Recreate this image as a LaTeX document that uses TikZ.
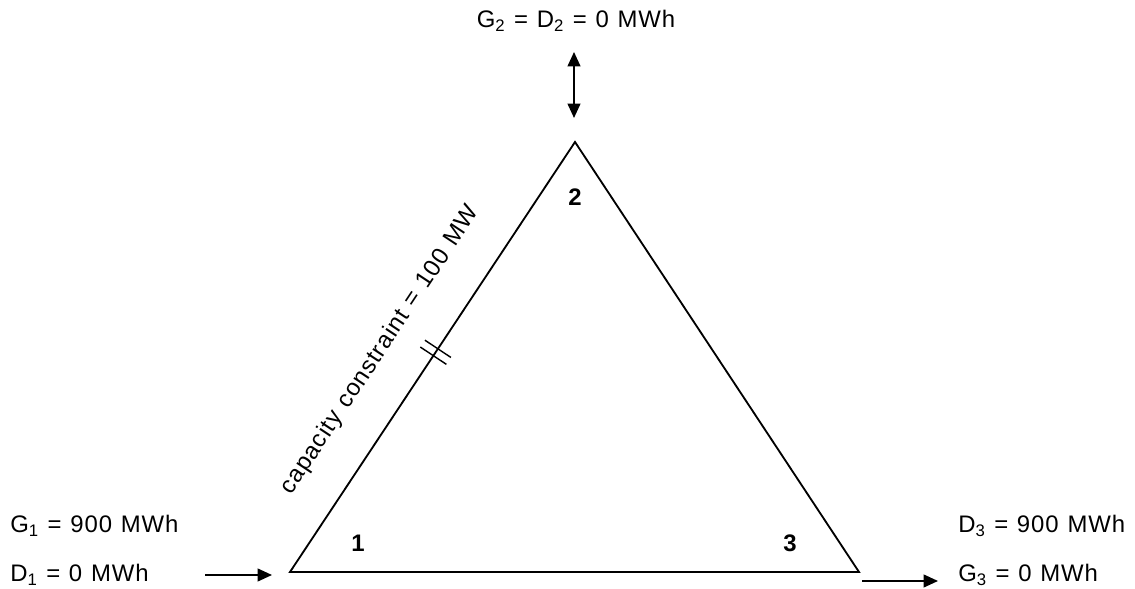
\documentclass[tikz,border=0pt]{standalone}
\usepackage{fontspec}
\setmainfont{Liberation Sans}[LetterSpace=4,WordSpace=1.15]
\usetikzlibrary{arrows.meta,calc,positioning}
\tikzset{
  flow/.style={line width=1.3pt, -{Triangle[length=0.36cm,width=0.32cm]}},
  vlabel/.style={font=\fontsize{17}{20}\selectfont\bfseries, inner sep=0pt},
  qty/.style={font=\fontsize{17}{20}\selectfont, inner sep=0pt, anchor=base west}
}
\begin{document}
\begin{tikzpicture}[x=0.025cm,y=0.025cm]
\useasboundingbox (0,0) rectangle (1135,589);
\coordinate (n1) at (290,17);
\coordinate (n2) at (575,447);
\coordinate (n3) at (859,17);
\draw[line width=1.3pt, line join=miter] (n1) -- (n2) -- (n3) -- cycle;
\node[vlabel] (l1) at (358,46) {1};
\node[vlabel] (l2) at (575,392) {2};
\node[vlabel] (l3) at (790,46) {3};
\path (n1) -- (n2) node[pos=0.455, sloped, above=0.9cm, font=\fontsize{17}{20}\selectfont, inner sep=0pt] (cap) {capacity constraint = 100 MW};
\coordinate (t1) at ($(n1)!0.503!(n2)$);
\coordinate (t2) at ($(n1)!0.519!(n2)$);
\draw[line width=1pt] ($(t1)!0.39cm!90:(n2)$) -- ($(t1)!0.39cm!-90:(n2)$);
\draw[line width=1pt] ($(t2)!0.39cm!90:(n2)$) -- ($(t2)!0.39cm!-90:(n2)$);
\node[qty] (g1) at (10,56) {G\textsubscript{1} = 900 MWh};
\node[qty] (d1) at (10,7) {D\textsubscript{1} = 0 MWh};
\node[qty] (d3) at (958,56) {D\textsubscript{3} = 900 MWh};
\node[qty] (g3) at (958,7) {G\textsubscript{3} = 0 MWh};
\node[qty, anchor=base] (g2) at (576,561) {G\textsubscript{2} = D\textsubscript{2} = 0 MWh};
\coordinate (a1) at (205,14);
\coordinate (b1) at (272,14);
\coordinate (a3) at (862,8);
\coordinate (b3) at (938,8);
\coordinate (a2) at (574,537);
\coordinate (b2) at (574,471);
\draw[flow] (a1) -- (b1);
\draw[flow] (a3) -- (b3);
\draw[flow, {Triangle[length=0.36cm,width=0.32cm]}-{Triangle[length=0.36cm,width=0.32cm]}] (a2) -- (b2);
\end{tikzpicture}
\end{document}
